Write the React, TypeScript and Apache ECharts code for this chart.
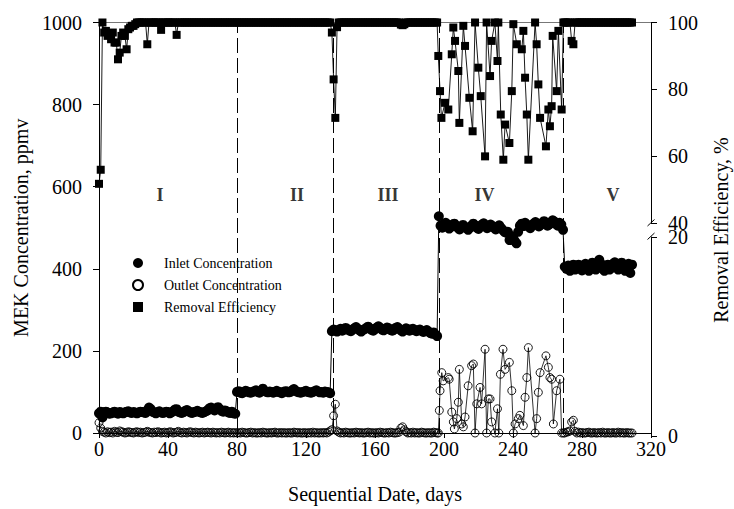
import React, { useEffect, useRef } from 'react';
import * as echarts from 'echarts';

const FONT = 'Liberation Serif';

// x tick values / axis ranges
const xMin = 0, xMax = 320, xStep = 40;
const leftMin = 0, leftMax = 1000, leftStep = 200;
const reUpperMin = 40, reUpperMax = 100, reUpperStep = 20;
const reLowerMin = 0, reLowerMax = 20, reLowerStep = 20;

// phase boundaries (days) and phase labels
const phaseBoundaries = [80, 136, 197, 269];
const phaseNames = ['I', 'II', 'III', 'IV', 'V'];
const phaseLabelDays = [35.4, 114.8, 167.5, 223.5, 298];
const phaseLabelLevel = 580;

const seriesNames = ['Inlet Concentration', 'Outlet Concentration', 'Removal Efficiency'];

// ---------- Inlet concentration (ppmv), daily values by phase ----------
const inletIStart = 0;
const inletI = [
  48, 52, 38, 50, 52, 50, 47, 48, 50, 52,
  49, 47, 51, 50, 48, 50, 52, 53, 50, 49,
  51, 50, 48, 50, 52, 51, 50, 49, 55, 62,
  58, 52, 50, 48, 51, 53, 50, 49, 50, 52,
  51, 48, 50, 53, 57, 58, 52, 50, 49, 51,
  54, 56, 53, 50, 49, 51, 52, 54, 52, 50,
  49, 51, 53, 55, 60, 62, 58, 55, 60, 63,
  58, 54, 52, 55, 53, 50, 49, 52, 48, 47,
];
const inletIIStart = 80;
const inletII = [
  100, 102, 98, 97, 100, 103, 101, 99, 98, 100,
  102, 104, 100, 98, 101, 108, 103, 100, 99, 101,
  100, 98, 100, 103, 100, 99, 97, 100, 102, 101,
  99, 100, 104, 107, 103, 100, 99, 98, 100, 101,
  103, 100, 99, 98, 100, 102, 104, 101, 99, 100,
  98, 101, 100, 99, 97,
];
const inletIIIStart = 135;
const inletIII = [
  248, 252, 250, 247, 251, 254, 249, 252, 256, 253,
  250, 248, 252, 255, 258, 254, 250, 247, 251, 253,
  256, 259, 255, 251, 249, 253, 257, 260, 256, 252,
  250, 254, 257, 255, 251, 249, 252, 256, 258, 254,
  250, 247, 251, 255, 253, 249, 252, 254, 251, 248,
  250, 252, 249, 246, 248, 251, 247, 244, 242, 245,
  240, 236,
];
const inletIVStart = 197;
const inletIV = [
  528, 505, 500, 510, 512, 505, 498, 502, 508, 510,
  505, 500, 496, 502, 507, 503, 499, 495, 500, 505,
  510, 506, 500, 497, 503, 508, 511, 505, 499, 503,
  508, 504, 500, 496, 502, 506, 500, 495, 490, 488,
  490, 470, 480, 475, 468, 462, 490, 505, 510, 504,
  512, 508, 503, 499, 505, 510, 514, 508, 503, 507,
  512, 516, 510, 505, 508, 513, 518, 515, 509, 505,
  512, 508, 495,
];
const inletVStart = 270;
const inletV = [
  405, 400, 408, 395, 402, 410, 398, 404, 410, 402,
  396, 405, 412, 400, 395, 408, 415, 402, 398, 410,
  422, 412, 400, 395, 405, 410, 398, 402, 412, 416,
  405, 398, 410, 415, 402, 395, 408, 412, 390, 410,
];

// ---------- Outlet concentration (ppmv) ----------
const outletI = [
  25, 12, 4, 2, 0, 3, 1, 2, 0, 4,
  2, 1, 5, 3, 2, 0, 1, 3, 2, 1,
  0, 2, 3, 1, 2, 0, 1, 2, 4, 2,
  1, 0, 2, 1, 3, 2, 0, 1, 2, 0,
  1, 3, 2, 0, 1, 2, 4, 1, 0, 2,
  1, 0, 2, 3, 1, 0, 2, 1, 0, 1,
  2, 0, 1, 2, 1, 0, 2, 1, 0, 1,
  0, 2, 1, 0, 1, 2, 0, 1, 0, 1,
];
const outletII = [
  0, 1, 0, 2, 1, 0, 0, 1, 2, 0,
  1, 0, 0, 1, 0, 2, 1, 0, 0, 1,
  0, 1, 2, 0, 0, 1, 0, 1, 0, 0,
  1, 0, 0, 2, 1, 0, 1, 0, 0, 1,
  0, 0, 1, 0, 2, 0, 1, 0, 0, 1,
  0, 1, 0, 2, 5,
];
const outletIII = [
  8, 42, 70, 5, 2, 0, 1, 0, 2, 1,
  0, 0, 1, 0, 2, 1, 0, 1, 0, 0,
  1, 2, 0, 1, 0, 0, 1, 0, 2, 1,
  0, 0, 1, 0, 2, 1, 0, 0, 1, 2,
  12, 15, 8, 3, 0, 1, 0, 2, 0, 1,
  0, 0, 2, 1, 0, 0, 1, 0, 0, 2,
  1, 0,
];
// phase IV: [day, ppmv]
const outletIV: [number, number][] = [
  [196.7, 0], [197.3, 55], [197.7, 103], [198.7, 147], [199.5, 127],
  [202.5, 135], [203, 131], [204.5, 51], [205.4, 27], [206, 10],
  [207.4, 35], [208.3, 75], [208.9, 155], [210.3, 22], [211.2, 15],
  [212.2, 39], [214, 115], [216, 164], [217, 168], [218, 0],
  [219, 71], [220.9, 111], [221.8, 71], [223.8, 204], [224.7, 0],
  [225.7, 83], [226.7, 83], [227.6, 27], [229.5, 0], [231, 59],
  [231.8, 0], [232.7, 143], [234.2, 204], [235.4, 155], [237.9, 172],
  [239.3, 103], [240.2, 0], [241.2, 22], [243.1, 35], [244, 43],
  [246, 18], [247, 87], [248, 135], [248.9, 208], [252.8, 0],
  [253.7, 35], [254.7, 99], [255.7, 147], [259.1, 188], [260.5, 160],
  [261.4, 135], [262.4, 131], [263.4, 22], [265.3, 103], [267.2, 131],
  [268.2, 0], [269.2, 0],
];
const outletV = [
  0, 2, 3, 5, 27, 31, 4, 0, 2, 0,
  1, 0, 0, 1, 2, 0, 0, 1, 0, 0,
  1, 0, 2, 0, 0, 1, 0, 0, 1, 0,
  0, 2, 0, 1, 0, 0, 1, 0, 0, 0,
];

// ---------- Removal efficiency (%) ----------
const reI = [
  51.8, 56, 100, 97, 97.5, 96, 96.5, 95, 97, 94,
  94, 89, 91, 96, 97, 96, 92, 98, 98.5, 99,
  99, 99.5, 100, 100, 100, 100, 100, 100, 93.5, 100,
  100, 100, 100, 100, 100, 100, 97.8, 100, 100, 100,
  100, 100, 100, 100, 100, 96.3, 100, 100, 100, 100,
  100, 100, 100, 100, 100, 100, 100, 100, 100, 100,
  100, 100, 100, 100, 100, 100, 100, 100, 100, 100,
  100, 100, 100, 100, 100, 100, 100, 100, 100, 100,
];
const reII = [
  100, 100, 100, 100, 100, 100, 100, 100, 100, 100,
  100, 100, 100, 100, 100, 100, 100, 100, 100, 100,
  100, 100, 100, 100, 100, 100, 100, 100, 100, 100,
  100, 100, 100, 100, 100, 100, 100, 100, 100, 100,
  100, 100, 100, 100, 100, 100, 100, 100, 100, 100,
  100, 100, 100, 100, 100,
];
const reIII = [
  97, 83, 71.5, 98.6, 100, 100, 100, 100, 100, 100,
  100, 100, 100, 100, 100, 100, 100, 100, 100, 100,
  100, 100, 100, 100, 100, 100, 100, 100, 100, 100,
  100, 100, 100, 100, 100, 100, 100, 100, 100, 100,
  99.4, 99.2, 99.5, 100, 100, 100, 100, 100, 100, 100,
  100, 100, 100, 100, 100, 100, 100, 100, 100, 100,
  100, 100,
];
// phase IV: [day, %]
const reIV: [number, number][] = [
  [196.7, 90], [197.7, 79.5], [198.5, 71.5], [200.6, 76], [202.5, 74],
  [204.5, 90.5], [205.4, 98.5], [206.4, 94.5], [208.3, 85.5], [208.9, 70],
  [211.2, 99], [212.2, 93], [214.7, 77.5], [216.6, 67.5], [218, 100],
  [219.9, 86.5], [221.3, 78], [223.8, 60], [224.7, 100], [226.7, 84],
  [227.6, 94.5], [229.5, 100], [231, 88.5], [231.5, 100], [232.9, 72.5],
  [234.4, 59], [235.4, 69.5], [237.9, 64], [239.3, 79.5], [240.2, 99.5],
  [242.2, 93.5], [245.1, 92], [246, 97.5], [247, 83.5], [248, 72.5],
  [248.9, 59], [252.8, 100], [253.7, 93.5], [254.7, 81.5], [255.7, 71.5],
  [259.1, 63], [260.5, 74], [261.4, 69], [262.4, 75], [263, 96],
  [265.3, 79.5], [266.3, 97.5], [268.2, 74], [269.2, 100],
];
const reV = [
  100, 100, 100, 100, 94.5, 93.5, 100, 100, 100, 100,
  100, 100, 100, 100, 100, 100, 100, 100, 100, 100,
  100, 100, 100, 100, 100, 100, 100, 100, 100, 100,
  100, 100, 100, 100, 100, 100, 100, 100, 100, 100,
];

const seg = (start: number, vals: number[]) => vals.map((v, i) => [start + i, v]);

const inletData = [
  ...seg(inletIStart, inletI), ...seg(inletIIStart, inletII), ...seg(inletIIIStart, inletIII),
  ...seg(inletIVStart, inletIV), ...seg(inletVStart, inletV),
];
const outletData = [
  ...seg(inletIStart, outletI), ...seg(inletIIStart, outletII), ...seg(inletIIIStart, outletIII),
  ...outletIV, ...seg(inletVStart, outletV),
];
const reData = [
  ...seg(inletIStart, reI), ...seg(inletIIStart, reII), ...seg(inletIIIStart, reIII),
  ...reIV, ...seg(inletVStart, reV),
];

const txt = { color: '#000', fontFamily: FONT, fontSize: 20 };
const plain = (v: number) => String(v);

function buildOption(): any {
  const GL = 99, GR = 83;
  const hiddenX = (gi: number) => ({ gridIndex: gi, type: 'value', min: xMin, max: xMax, show: false });
  const rightY = (gi: number, min: number, max: number, step: number) => ({
    gridIndex: gi, type: 'value', position: 'right', min, max, interval: step,
    axisLine: { show: true, onZero: false, lineStyle: { color: '#000', width: 1 } },
    axisTick: { show: true, inside: false, length: 6, lineStyle: { color: '#000' } },
    axisLabel: { ...txt, margin: 17, formatter: plain },
    splitLine: { show: false },
  });
  return {
    animation: false,
    backgroundColor: '#fff',
    textStyle: { fontFamily: FONT },
    grid: [
      { left: GL, right: GR, top: 22.5, bottom: 73 },
      { left: GL, right: GR, top: 22.5, height: 200.8 },
      { left: GL, right: GR, top: 237, bottom: 73 },
    ],
    xAxis: [
      {
        gridIndex: 0, type: 'value', position: 'bottom', min: xMin, max: xMax, interval: xStep,
        axisLine: { show: true, onZero: false, lineStyle: { color: '#000', width: 1 } },
        axisTick: { show: true, inside: false, length: 5, lineStyle: { color: '#000' } },
        axisLabel: { ...txt, margin: 6, formatter: plain },
        splitLine: { show: false },
        name: 'Sequential Date, days', nameLocation: 'middle', nameGap: 51,
        nameTextStyle: { ...txt },
      },
      {
        gridIndex: 0, type: 'value', position: 'top', min: xMin, max: xMax,
        axisLine: { show: true, onZero: false, lineStyle: { color: '#777', width: 1 } },
        axisTick: { show: false }, axisLabel: { show: false }, splitLine: { show: false },
      },
      hiddenX(1),
      hiddenX(2),
    ],
    yAxis: [
      {
        gridIndex: 0, type: 'value', position: 'left', min: leftMin, max: leftMax, interval: leftStep,
        axisLine: { show: true, onZero: false, lineStyle: { color: '#000', width: 1 } },
        axisTick: { show: true, inside: false, length: 6, lineStyle: { color: '#000' } },
        axisLabel: { ...txt, margin: 17, formatter: plain },
        splitLine: { show: false },
        name: 'MEK Concentration, ppmv', nameLocation: 'middle', nameGap: 62, nameRotate: 90,
        nameTextStyle: { ...txt },
      },
      rightY(1, reUpperMin, reUpperMax, reUpperStep),
      rightY(2, reLowerMin, reLowerMax, reLowerStep),
    ],
    legend: {
      orient: 'vertical', left: 132, top: 255, padding: 0,
      itemWidth: 10, itemHeight: 10, itemGap: 6,
      textStyle: { color: '#000', fontFamily: FONT, fontSize: 14, lineHeight: 16, padding: [0, 0, 0, 16] },
      data: [
        { name: seriesNames[0], icon: 'circle' },
        { name: seriesNames[1], icon: 'circle' },
        { name: seriesNames[2], icon: 'rect' },
      ],
      selectedMode: false,
    },
    series: [
      {
        name: seriesNames[0], type: 'line', xAxisIndex: 0, yAxisIndex: 0,
        data: inletData, symbol: 'circle', symbolSize: 10, showSymbol: true,
        itemStyle: { color: '#000' }, lineStyle: { color: '#000', width: 1 },
        markLine: {
          silent: true, symbol: ['none', 'none'], label: { show: false },
          lineStyle: { color: '#000', width: 1, type: [15, 5] },
          emphasis: { disabled: true },
          data: phaseBoundaries.map((d) => ({ xAxis: d })),
        },
      },
      {
        name: seriesNames[1], type: 'line', xAxisIndex: 0, yAxisIndex: 0,
        data: outletData, symbol: 'circle', symbolSize: 8, showSymbol: true,
        itemStyle: { color: 'rgba(255,255,255,0)', borderColor: '#000', borderWidth: 0.9 },
        lineStyle: { color: '#000', width: 0.8 },
      },
      {
        name: seriesNames[2], type: 'line', xAxisIndex: 2, yAxisIndex: 1,
        data: reData, symbol: 'rect', symbolSize: 8, showSymbol: true,
        itemStyle: { color: '#000' }, lineStyle: { color: '#000', width: 0.9 },
      },
      {
        name: 'phases', type: 'scatter', xAxisIndex: 0, yAxisIndex: 0,
        symbolSize: 0, silent: true,
        data: phaseNames.map((n, i) => ({ name: n, value: [phaseLabelDays[i], phaseLabelLevel] })),
        label: {
          show: true, position: 'inside', formatter: '{b}',
          color: '#000', fontFamily: FONT, fontSize: 18, fontWeight: 'bold',
        },
      },
    ],
    graphic: [
      {
        type: 'text', x: 721, y: 230, rotation: Math.PI / 2,
        style: { text: 'Removal Efficiency, %', fill: '#000', fontFamily: FONT, fontSize: 20, textAlign: 'center', textVerticalAlign: 'middle' },
      },
      { type: 'line', shape: { x1: 647.5, y1: 226, x2: 654.5, y2: 219.5 }, style: { stroke: '#000', lineWidth: 1 } },
      { type: 'line', shape: { x1: 647.5, y1: 239.5, x2: 654.5, y2: 233 }, style: { stroke: '#000', lineWidth: 1 } },
    ],
  };
}

export default function App() {
  const ref = useRef<HTMLDivElement>(null);
  useEffect(() => {
    const chart = echarts.init(ref.current!, null, { renderer: 'svg', width: 734, height: 509 });
    chart.setOption(buildOption());
    return () => chart.dispose();
  }, []);
  return (
    <div
      ref={ref}
      style={{ position: 'fixed', left: 0, top: 0, width: 734, height: 509, background: '#fff' }}
    />
  );
}
